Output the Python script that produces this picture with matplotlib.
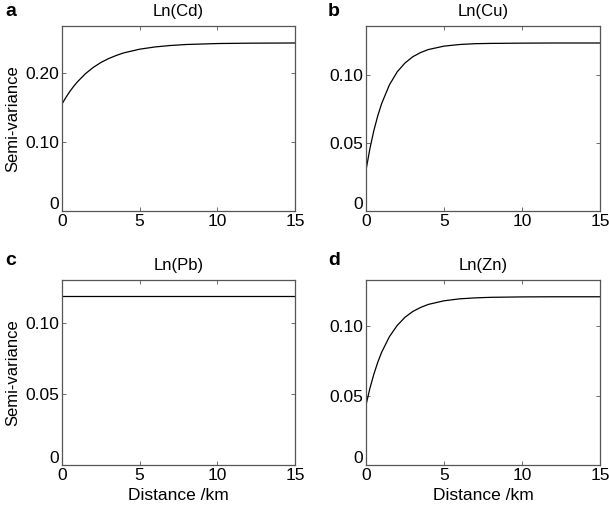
import numpy as np
import matplotlib
matplotlib.use("Agg")
import matplotlib.pyplot as plt
from matplotlib.transforms import ScaledTranslation

plt.rcParams['font.family'] = ['Liberation Sans', 'DejaVu Sans']

dist = [0, 0.25, 0.5, 0.75, 1, 1.5, 2, 2.5, 3, 3.5, 4, 5, 6, 7, 8, 10, 12, 15]

gamma_cd = [0.155, 0.1645, 0.173, 0.1806, 0.1873, 0.1987, 0.2078, 0.2151, 0.2208,
            0.2254, 0.2292, 0.2344, 0.2377, 0.2398, 0.2412, 0.2426, 0.2431, 0.2434]
gamma_cu = [0.030, 0.0458, 0.059, 0.0698, 0.0789, 0.0927, 0.1023, 0.1088, 0.1134,
            0.1165, 0.1187, 0.1212, 0.1224, 0.1230, 0.1232, 0.1234, 0.1235, 0.1235]
gamma_pb = [0.1185] * len(dist)
gamma_zn = [0.0433, 0.0553, 0.0654, 0.0740, 0.0813, 0.0926, 0.1007, 0.1066, 0.1108,
            0.1137, 0.1159, 0.1185, 0.1199, 0.1206, 0.1210, 0.1213, 0.1214, 0.1214]

titles = ["Ln(Cd)", "Ln(Cu)", "Ln(Pb)", "Ln(Zn)"]
letters = ["a", "b", "c", "d"]
series = [gamma_cd, gamma_cu, gamma_pb, gamma_zn]
ymax = [0.268, 0.136, 0.130, 0.1335]
yticks = [[0, 0.10, 0.20], [0, 0.05, 0.10], [0, 0.05, 0.10], [0, 0.05, 0.10]]

W, H = 609, 508
fig = plt.figure(figsize=(W / 100, H / 100), dpi=100)

# axes boxes in pixels: left, top, right, bottom
boxes = [(62, 26, 295, 211), (366, 26, 600, 211),
         (62, 280, 295, 465), (366, 280, 600, 465)]
# panel letter anchors (x, baseline) in pixels
letter_pos = [(5, 16), (328, 16), (5, 265), (328, 265)]

for k in range(4):
	l, t, r, b = boxes[k]
	ax = fig.add_axes([l / W, 1 - b / H, (r - l) / W, (b - t) / H])
	ax.plot(dist, series[k], color='black', lw=0.9)
	ax.set_xlim(0, 15)
	ax.set_ylim(0, ymax[k])
	ax.set_xticks([0, 5, 10, 15])
	ax.set_yticks(yticks[k])
	ax.set_yticklabels(["0" if v == 0 else "%.2f" % v for v in yticks[k]])
	ax.tick_params(direction='in', top=True, right=True, length=3, width=0.6,
	               color='#555555', labelsize=12.5, pad=2)
	# matlab puts the zero label a little above the corner
	lab0 = ax.get_yticklabels()[0]
	lab0.set_transform(lab0.get_transform() + ScaledTranslation(0, 6 / 72, fig.dpi_scale_trans))
	for s in ax.spines.values():
		s.set_color('#555555')
		s.set_linewidth(0.9)
	ax.set_title(titles[k], fontsize=12, pad=7)
	lx, ly = letter_pos[k]
	fig.text(lx / W, 1 - ly / H, letters[k], fontsize=14,
	         fontweight='bold', va='baseline', ha='left')
	if k in (0, 2):
		ax.set_ylabel("Semi-variance", fontsize=12, labelpad=4)
	if k in (2, 3):
		ax.set_xlabel("Distance /km", fontsize=12.5, labelpad=4)

fig.savefig("out.png", dpi=100)
